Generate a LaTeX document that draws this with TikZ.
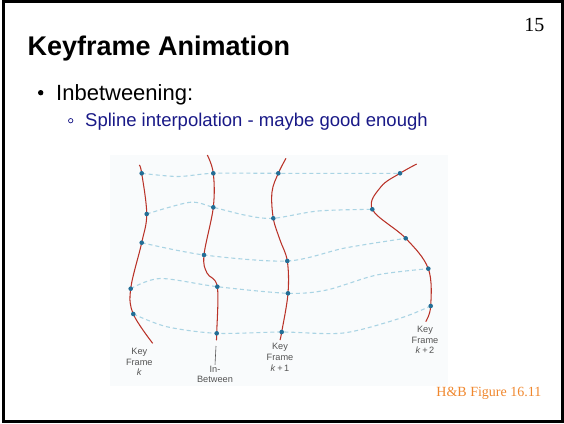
\documentclass[tikz,border=0pt]{standalone}
\usepackage{fontspec}
\setmainfont{Liberation Sans}
\newfontfamily\slideserif{Liberation Serif}
\definecolor{curvered}{RGB}{185,50,40}
\definecolor{dotblue}{RGB}{35,110,150}
\definecolor{dashblue}{RGB}{170,212,228}
\definecolor{labelgrey}{RGB}{85,85,85}
\definecolor{slidenavy}{RGB}{25,25,135}
\definecolor{slideorange}{RGB}{240,135,45}
\definecolor{figtint}{RGB}{249,251,252}
\usetikzlibrary{positioning}

\begin{document}
\begin{tikzpicture}[x=1pt,y=-1pt,
  keyline/.style={curvered,line width=1.05pt},
  tween/.style={dashblue,line width=1.1pt,dash pattern=on 4pt off 3pt},
  framelabel/.style={align=center,text=labelgrey,font=\fontsize{9.2}{10.7}\selectfont,inner sep=1pt}]
\useasboundingbox (0,0) rectangle (564,423);
\draw[line width=3pt] (3.3,1.4) rectangle (562.4,421.2);
% slide text
\node[anchor=base west,font=\fontsize{27}{32}\selectfont\bfseries,inner sep=0] (title) at (27.5,55.3) {Keyframe Animation};
\node[anchor=base east,font=\slideserif\fontsize{20}{24}\selectfont,inner sep=0] (pageno) at (544.5,31.7) {15};
\node[circle,fill,inner sep=0,minimum size=5.4pt] (bul) at (40.7,92.7) {};
\node[anchor=base west,font=\fontsize{22}{26}\selectfont,inner sep=0] (lvl1) at (56,100.7) {Inbetweening:};
\node[circle,draw=slidenavy,line width=0.7pt,inner sep=0,minimum size=4.4pt] (subbul) at (70.7,120.7) {};
\node[anchor=base west,font=\fontsize{18.5}{22}\selectfont,text=slidenavy,inner sep=0] (lvl2) at (85,126.7) {Spline interpolation - maybe good enough};
\node[anchor=base east,font=\slideserif\fontsize{14}{17}\selectfont,text=slideorange,inner sep=0] (credit) at (541.5,396.8) {H\&B Figure 16.11};
% figure
\fill[figtint] (110,155) rectangle (448,386);
\coordinate (a0) at (139.3,165);   \coordinate (a1) at (141.7,173.3);
\coordinate (a2) at (146.7,214);   \coordinate (a3) at (141.7,242.7);
\coordinate (a4) at (130.7,288.7); \coordinate (a5) at (133.3,314);
\coordinate (a6) at (152.7,343.3);
\coordinate (b0) at (207.3,155);   \coordinate (b1) at (213.3,173.3);
\coordinate (b2) at (213.3,207.3); \coordinate (b3) at (204,255);
\coordinate (b4) at (217.3,286.7); \coordinate (b5) at (216.7,333.3);
\coordinate (b6) at (216.3,340);
\coordinate (c0) at (286,158.3);   \coordinate (c1) at (278.3,173.3);
\coordinate (c2) at (273.3,218.3); \coordinate (c3) at (287.3,261);
\coordinate (c4) at (288,293.3);   \coordinate (c5) at (281.7,332);
\coordinate (c6) at (280,340);
\coordinate (d0) at (416.7,164);   \coordinate (d1) at (400,173.3);
\coordinate (d2) at (372.3,209.3); \coordinate (d3) at (405.7,238.3);
\coordinate (d4) at (428.3,268.7); \coordinate (d5) at (430.7,306);
\coordinate (d6) at (425.7,321.7);
\draw[tween] plot[smooth] coordinates {(a1) (178,176.5) (b1) (c1) (d1)};
\draw[tween] plot[smooth] coordinates {(a2) (190,202.3) (b2) (246.7,215.5) (c2) (318,211) (d2)};
\draw[tween] plot[smooth] coordinates {(a3) (b3) (c3) (345,248) (d3)};
\draw[tween] plot[smooth] coordinates {(a4) (160,278.5) (b4) (c4) (326.7,290) (376.7,275) (d4)};
\draw[tween] plot[smooth] coordinates {(a5) (166.7,326.7) (b5) (c5) (343.3,333) (400,318.3) (d5)};
\draw[keyline] plot[smooth,tension=0.6] coordinates {(a0) (a1) (a2) (a3) (a4) (a5) (a6)};
\draw[keyline] plot[smooth,tension=0.6] coordinates {(b0) (b1) (b2) (b3) (207,273) (b4) (b5) (b6)};
\draw[keyline] plot[smooth,tension=0.6] coordinates {(c0) (c1) (272,192) (c2) (280,240) (c3) (c4) (c5) (c6)};
\draw[keyline] plot[smooth,tension=0.6] coordinates {(d0) (d1) (381,186.7) (d2) (d3) (d4) (d5) (d6)};
\foreach \c in {a,b,c,d}
  \foreach \r in {1,...,5}
    \fill[dotblue] (\c\r) circle (2.3pt);
\node[framelabel] (kf0) at (139.3,362) {Key\\Frame\\\textit{k}};
\node[framelabel] (ib) at (215,374.5) {In-\\Between};
\node[framelabel] (kf1) at (280,357.5) {Key\\Frame\\\textit{k}\,+\,1};
\node[framelabel] (kf2) at (425,340) {Key\\Frame\\\textit{k}\,+\,2};
\coordinate (ibtip) at (216,346);
\draw[labelgrey,line width=0.6pt] (ibtip) -- (ib.north);
\end{tikzpicture}
\end{document}
